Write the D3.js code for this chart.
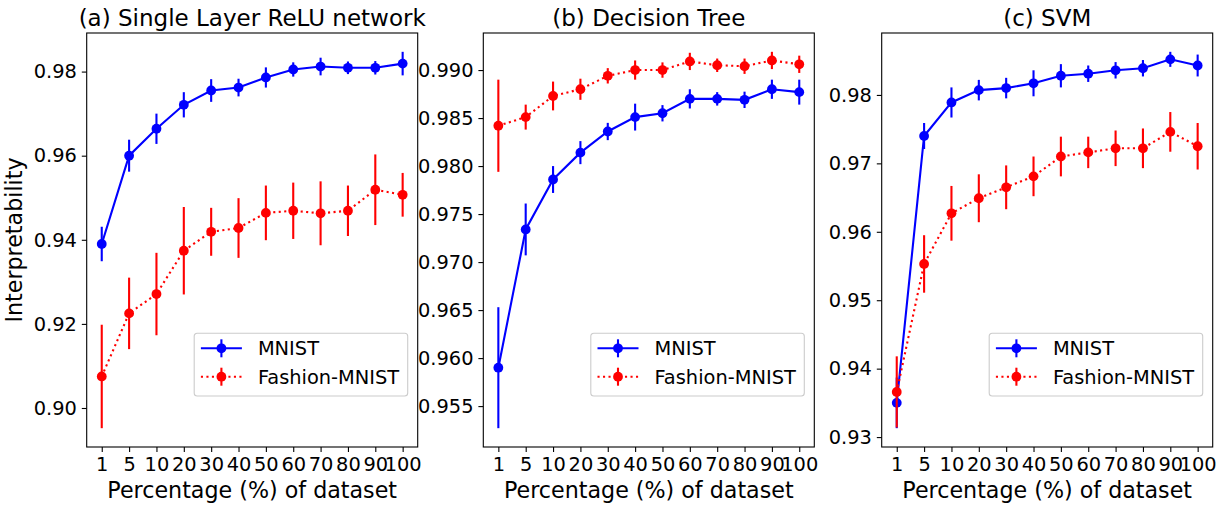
<!doctype html>
<html>
<head>
<meta charset="utf-8">
<title>Interpretability vs percentage of dataset</title>
<script src="https://d3js.org/d3.v7.min.js"></script>
<style>
  body { margin: 0; background: #fff; }
  svg text { font-family: "DejaVu Sans", sans-serif; fill: #000; }
</style>
</head>
<body>
<svg id="chart" width="1218" height="506"></svg>
<script>
// x categories (percentage of dataset)
const categories = ["1", "5", "10", "20", "30", "40", "50", "60", "70", "80", "90", "100"];
const seriesNames = ["MNIST", "Fashion-MNIST"];

// (a) single layer ReLU network
const reluMnist    = [0.9390, 0.9600, 0.9664, 0.9721, 0.9755, 0.9762, 0.9786, 0.9805, 0.9812, 0.9809, 0.9809, 0.9819];
const reluMnistErr = [0.0041, 0.0038, 0.0036, 0.0030, 0.0027, 0.0021, 0.0024, 0.0017, 0.0021, 0.0015, 0.0016, 0.0028];
const reluFashion    = [0.9075, 0.9225, 0.9271, 0.9374, 0.9419, 0.9428, 0.9464, 0.9469, 0.9463, 0.9469, 0.9519, 0.9507];
const reluFashionErr = [0.0123, 0.0085, 0.0098, 0.0104, 0.0057, 0.0071, 0.0065, 0.0067, 0.0076, 0.0060, 0.0084, 0.0052];

// (b) decision tree
const treeMnist    = [0.9590, 0.9734, 0.9786, 0.9814, 0.9836, 0.9851, 0.9855, 0.9870, 0.9870, 0.9869, 0.9880, 0.9877];
const treeMnistErr = [0.0063, 0.0027, 0.0014, 0.0012, 0.0009, 0.0014, 0.00085, 0.0010, 0.0007, 0.00085, 0.0010, 0.0013];
const treeFashion    = [0.9842, 0.9851, 0.9873, 0.9880, 0.9894, 0.9900, 0.9900, 0.9909, 0.9905, 0.9904, 0.9910, 0.9906];
const treeFashionErr = [0.0048, 0.0013, 0.0015, 0.0011, 0.0008, 0.0010, 0.0008, 0.0009, 0.0007, 0.0008, 0.0009, 0.0009];

// (c) SVM
const svmMnist    = [0.9350, 0.9740, 0.9789, 0.9807, 0.9810, 0.9817, 0.9828, 0.9831, 0.9836, 0.9839, 0.9852, 0.9843];
const svmMnistErr = [0.0037, 0.0019, 0.0022, 0.0015, 0.0015, 0.0019, 0.0017, 0.0012, 0.0012, 0.0012, 0.0011, 0.0016];
const svmFashion    = [0.9366, 0.9553, 0.9627, 0.9649, 0.9665, 0.9681, 0.9710, 0.9716, 0.9722, 0.9722, 0.9746, 0.9725];
const svmFashionErr = [0.0052, 0.0042, 0.0040, 0.0035, 0.0032, 0.0029, 0.0029, 0.0023, 0.0026, 0.0029, 0.0029, 0.0034];

// y tick labels per panel
const reluTicks = [0.90, 0.92, 0.94, 0.96, 0.98];
const treeTicks = [0.955, 0.960, 0.965, 0.970, 0.975, 0.980, 0.985, 0.990];
const svmTicks  = [0.93, 0.94, 0.95, 0.96, 0.97, 0.98];

const titles = ["(a) Single Layer ReLU network", "(b) Decision Tree", "(c) SVM"];

const panels = [
  { title: titles[0], left: 86.7,  ticks: reluTicks, fmt: ".2f",
    series: [[reluMnist, reluMnistErr], [reluFashion, reluFashionErr]] },
  { title: titles[1], left: 483.3, ticks: treeTicks, fmt: ".3f",
    series: [[treeMnist, treeMnistErr], [treeFashion, treeFashionErr]] },
  { title: titles[2], left: 881.7, ticks: svmTicks, fmt: ".2f",
    series: [[svmMnist, svmMnistErr], [svmFashion, svmFashionErr]] }
];

const colors = ["#0000ff", "#ff0000"];
const dashes = [null, "2.1,3.4"];
const W = 331, plotTop = 33, plotBottom = 447;
const tickFont = 19.4, labelFont = 22.2, titleFont = 23;

const svg = d3.select("#chart");

panels.forEach(function(p, pi) {
  const g = svg.append("g").attr("transform", "translate(" + p.left + ",0)");

  // x: category index, matplotlib-like 5% margin
  const n = categories.length;
  const x = d3.scaleLinear().domain([-0.05 * (n - 1), (n - 1) * 1.05]).range([0, W]);

  // y: data extent incl. error bars, 5% margin
  let lo = Infinity, hi = -Infinity;
  p.series.forEach(function(s) {
    s[0].forEach(function(v, i) {
      lo = Math.min(lo, v - s[1][i]);
      hi = Math.max(hi, v + s[1][i]);
    });
  });
  const pad = (hi - lo) * 0.05;
  const y = d3.scaleLinear().domain([lo - pad, hi + pad]).range([plotBottom, plotTop]);

  // axes
  const yAxis = g.append("g")
    .call(d3.axisLeft(y).tickValues(p.ticks).tickFormat(d3.format(p.fmt))
      .tickSize(4.9).tickPadding(4.9));
  const xAxis = g.append("g").attr("transform", "translate(0," + plotBottom + ")")
    .call(d3.axisBottom(x).tickValues(d3.range(n)).tickFormat(function(i) { return categories[i]; })
      .tickSize(4.9).tickPadding(4.9));
  [yAxis, xAxis].forEach(function(a) {
    a.select(".domain").remove();
    a.selectAll("line").attr("stroke", "#000").attr("stroke-width", 1.1);
    a.selectAll("text").style("font-size", tickFont + "px").style("font-family", "DejaVu Sans, sans-serif");
  });

  // series
  p.series.forEach(function(s, si) {
    const vals = s[0], errs = s[1];
    const line = d3.line().x(function(d, i) { return x(i); }).y(function(d) { return y(d); });
    g.append("path").datum(vals)
      .attr("d", line)
      .attr("fill", "none")
      .attr("stroke", colors[si])
      .attr("stroke-width", 2.1)
      .attr("stroke-dasharray", dashes[si]);
    g.append("g").selectAll("line").data(vals).join("line")
      .attr("x1", function(d, i) { return x(i); })
      .attr("x2", function(d, i) { return x(i); })
      .attr("y1", function(d, i) { return y(d - errs[i]); })
      .attr("y2", function(d, i) { return y(d + errs[i]); })
      .attr("stroke", colors[si])
      .attr("stroke-width", 2.1);
    g.append("g").selectAll("circle").data(vals).join("circle")
      .attr("cx", function(d, i) { return x(i); })
      .attr("cy", function(d) { return y(d); })
      .attr("r", 4.9)
      .attr("fill", colors[si]);
  });

  // frame
  g.append("rect").attr("x", 0).attr("y", plotTop).attr("width", W).attr("height", plotBottom - plotTop)
    .attr("fill", "none").attr("stroke", "#000").attr("stroke-width", 1.1);

  // title
  g.append("text").attr("x", W / 2).attr("y", 26).attr("text-anchor", "middle")
    .style("font-size", titleFont + "px").text(p.title);

  // x label
  g.append("text").attr("x", W / 2).attr("y", 498).attr("text-anchor", "middle")
    .style("font-size", labelFont + "px").text("Percentage (%) of dataset");

  // legend
  const lw = 213.5, lx = W - 10 - lw, ly = 333.3;
  const leg = g.append("g").attr("transform", "translate(" + lx + "," + ly + ")");
  leg.append("rect").attr("width", lw).attr("height", 62.7).attr("rx", 3)
    .attr("fill", "#fff").attr("fill-opacity", 0.8)
    .attr("stroke", "#cccccc").attr("stroke-width", 1.1);
  seriesNames.forEach(function(name, si) {
    const ry = 15 + si * 28.4;
    leg.append("line").attr("x1", 6.7).attr("x2", 47.7).attr("y1", ry).attr("y2", ry)
      .attr("stroke", colors[si]).attr("stroke-width", 2.1).attr("stroke-dasharray", dashes[si]);
    leg.append("line").attr("x1", 27.2).attr("x2", 27.2).attr("y1", ry - 9).attr("y2", ry + 9)
      .attr("stroke", colors[si]).attr("stroke-width", 2.1);
    leg.append("circle").attr("cx", 27.2).attr("cy", ry).attr("r", 4.9).attr("fill", colors[si]);
    leg.append("text").attr("x", 63.7).attr("y", ry).attr("dy", "0.36em")
      .style("font-size", tickFont + "px").text(name);
  });

  // y label only on first panel
  if (pi === 0) {
    svg.append("text")
      .attr("transform", "translate(22," + (plotTop + plotBottom) / 2 + ") rotate(-90)")
      .attr("text-anchor", "middle")
      .style("font-size", labelFont + "px")
      .text("Interpretability");
  }
});
</script>
</body>
</html>
